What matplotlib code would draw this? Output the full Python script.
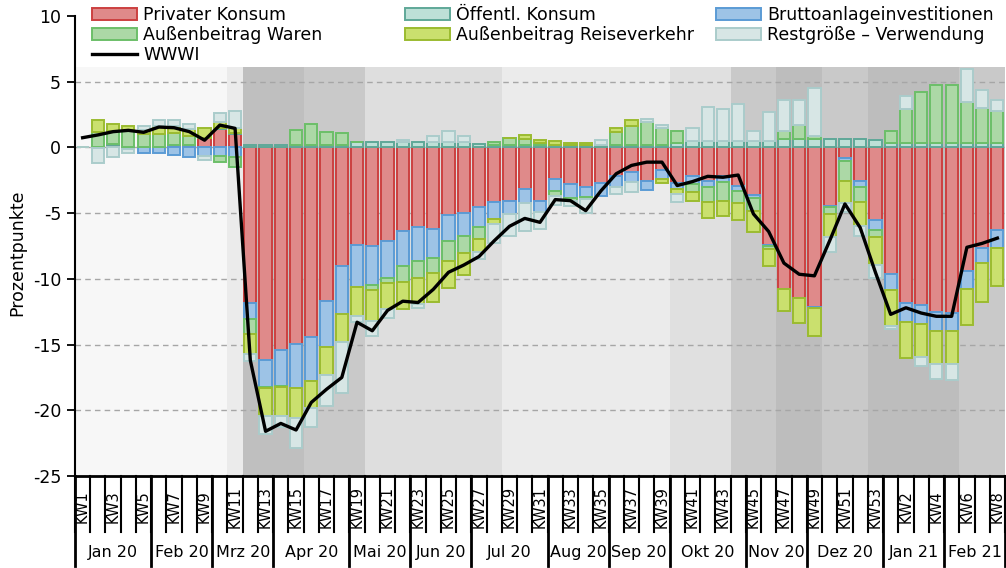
"""
Wachstumsbeiträge zum WWWI (Wochen 2020/21) - gestapelte Balken mit Hintergrundbändern
"""
import matplotlib
matplotlib.use('Agg')
import matplotlib.pyplot as plt
import matplotlib.transforms as mtransforms
import numpy as np

plt.rcParams['axes.unicode_minus'] = False

# ---------- Daten ----------
weeks = [f'KW{i}' for i in range(1, 54)] + [f'KW{i}' for i in range(1, 9)]
months = ['Jan 20', 'Feb 20', 'Mrz 20', 'Apr 20', 'Mai 20', 'Jun 20', 'Jul 20',
          'Aug 20', 'Sep 20', 'Okt 20', 'Nov 20', 'Dez 20', 'Jan 21', 'Feb 21']
month_weeks = [5, 4, 4, 5, 4, 4, 5, 4, 4, 5, 4, 5, 4, 4]

privat = [0, 0, 0.2, 0, 0, 0, 0.15, 0.15, 0.7, 1.4, 1.0,
          -11.83, -16.16, -15.45, -14.95, -14.45, -11.68, -9.0, -7.4, -7.53, -7.15,
          -6.34, -6.03, -6.2, -5.11, -4.99, -4.55, -4.12, -4.05, -3.2, -4.05,
          -2.4, -2.82, -2.98, -2.7, -2.19, -1.88, -2.52, -1.7, -2.7, -2.19,
          -2.52, -2.14, -2.95, -3.61, -7.45, -10.74, -11.43, -12.11, -4.43, -0.79,
          -2.52, -5.5, -9.64, -11.81, -11.98, -12.49, -12.62, -9.39, -7.66, -6.28]
oeffentl = [0, 0.05, 0.05, 0.05, 0.05, 0.05, 0.05, 0.05, 0.05, 0.1, 0.1,
            0.15, 0.2, 0.15, 0.15, 0.2, 0.2, 0.2, 0.4, 0.4, 0.4,
            0.4, 0.4, 0.4, 0.4, 0.4, 0.28, 0.2, 0.2, 0.2, 0.2,
            0.15, 0.15, 0.15, 0.2, 0.2, 0.2, 0.2, 0.2, 0.35, 0.5,
            0.5, 0.5, 0.5, 0.5, 0.5, 0.65, 0.65, 0.65, 0.65, 0.65,
            0.65, 0.53, 0.35, 0.35, 0.35, 0.35, 0.35, 0.35, 0.35, 0.35]
brutto = [0, -0.05, 0, -0.15, -0.4, -0.4, -0.6, -0.75, -0.65, -0.65, -0.75,
          -1.22, -2.08, -2.7, -3.35, -3.35, -3.49, -3.65, -3.2, -2.93, -2.8,
          -2.66, -2.6, -2.25, -2.04, -1.73, -1.53, -1.33, -1.01, -1.02, -0.89,
          -0.93, -1.05, -0.76, -0.96, -0.84, -0.77, -0.71, -0.74, -0.46, -0.58,
          -0.51, -0.51, -0.33, -0.26, -0.05, -0.05, -0.05, -0.13, -0.13, -0.28,
          -0.51, -0.76, -1.22, -1.45, -1.42, -1.48, -1.35, -1.35, -1.15, -1.38]
waren = [0, 1.15, 1.0, 1.3, 1.0, 1.0, 0.9, 0.7, 0, -0.45, -0.75,
         -1.12, -0.1, -0.1, 1.2, 1.55, 1.0, 0.92, 0, -0.38, -0.38,
         -1.23, -1.32, -1.12, -1.48, -1.35, -0.89, 0.2, 0.5, 0.46, 0.15,
         -0.39, -0.23, -0.18, 0, 0.97, 1.43, 1.73, 1.3, 0.87, -0.59,
         -1.14, -1.4, -0.94, -0.94, -0.2, 0.57, 1.08, 0.22, -0.5, -1.45,
         -1.09, -0.59, 0.87, 2.55, 3.87, 4.38, 4.38, 3.11, 2.65, 2.4]
reise = [0, 0.85, 0.5, 0.3, 0.25, 0.6, 0.5, 0.5, 0.75, 0.4, 0.35,
         -1.56, -2.1, -2.15, -2.3, -2.0, -2.11, -2.15, -2.22, -2.37, -1.97,
         -2.03, -1.98, -2.16, -2.03, -1.62, -0.97, -0.38, 0, 0.31, 0.23,
         0.31, 0.18, 0.18, 0, 0.33, 0.43, 0, -0.26, -0.38, -0.69,
         -1.2, -1.19, -1.28, -1.65, -1.34, -1.63, -1.9, -2.11, -1.78, -1.7,
         -1.83, -2.11, -2.72, -2.75, -2.55, -2.54, -2.54, -2.77, -2.92, -2.87]
rest = [0, -1.15, -0.75, -0.25, 0.35, 0.4, 0.45, 0.4, -0.3, 0.75, 1.3,
        -0.55, -1.35, -0.9, -2.3, -1.45, -2.36, -3.88, -0.5, -1.1, -0.65,
        0.18, -0.26, 0.44, 0.85, 0.44, -0.56, -1.45, -1.66, -2.11, -1.26,
        -0.63, -0.33, -1.07, 0.38, -0.51, -0.71, 0.26, 0.18, -0.63, 0.98,
        2.6, 2.45, 2.83, 0.72, 2.2, 2.37, 1.86, 3.66, -1.09, -0.71,
        -0.76, -0.94, -0.25, 0.99, -0.69, -1.09, -1.15, 2.47, 1.4, 0.89]
wwwi = [0.74, 0.95, 1.2, 1.3, 1.15, 1.55, 1.5, 1.2, 0.55, 1.7, 1.45,
        -16.2, -21.6, -21.0, -21.5, -19.4, -18.4, -17.5, -13.3, -13.95, -12.4,
        -11.7, -11.8, -10.8, -9.5, -8.95, -8.3, -7.1, -6.0, -5.4, -5.7,
        -3.97, -4.05, -4.81, -3.3, -2.0, -1.37, -1.12, -1.12, -2.9, -2.6,
        -2.2, -2.27, -2.1, -5.06, -6.4, -8.8, -9.65, -9.77, -7.1, -4.3,
        -6.1, -9.5, -12.7, -12.2, -12.6, -12.85, -12.85, -7.6, -7.3, -6.9]

# Hintergrundbänder (Start-Woche-Index, Graustufe)
band_start = [0, 10, 11, 15, 19, 28, 39, 43, 46, 49, 52, 58]
band_gray = ['#f7f7f7', '#ebebeb', '#bfbfbf', '#c9c9c9', '#dedede', '#ebebeb',
             '#e0e0e0', '#c9c9c9', '#bdbdbd', '#c9c9c9', '#bdbdbd', '#c9c9c9']

series = [
    ('Privater Konsum', privat, '#df8a8a', '#cc4040'),
    ('Öffentl. Konsum', oeffentl, '#bde0d7', '#5fa898'),
    ('Bruttoanlageinvestitionen', brutto, '#9dc3e6', '#5b9bd5'),
    ('Außenbeitrag Waren', waren, '#acd8a6', '#6cbf69'),
    ('Außenbeitrag Reiseverkehr', reise, '#cae06e', '#9bbb30'),
    ('Restgröße – Verwendung', rest, '#d7e6e5', '#aacccb'),
]

fig = plt.figure(figsize=(10.06, 5.68), dpi=100)
ax = fig.add_axes([75 / 1006, 1 - 476 / 568, 930 / 1006, 460 / 568])

n = len(weeks)
x = np.arange(n)
ax.set_xlim(-0.5, n - 0.5)
ax.set_ylim(-25, 10)

# Bänder
band_top = (6.1 + 25) / 35
band_end = band_start[1:] + [n]
for s, e, g in zip(band_start, band_end, band_gray):
    ax.axvspan(s - 0.5, e - 0.5, ymin=0, ymax=band_top, color=g, lw=0, zorder=0)

# Gitternetz
for yv in [5, 0, -5, -10, -15, -20]:
    ax.axhline(yv, color='#a6a6a6', lw=1, ls=(0, (4, 3)), zorder=0.5)

# gestapelte Balken (positiv / negativ getrennt)
pos_bottom = np.zeros(n)
neg_bottom = np.zeros(n)
handles = {}
for name, vals, fc, ec in series:
    v = np.array(vals, dtype=float)
    bottom = np.where(v >= 0, pos_bottom, neg_bottom)
    bars = ax.bar(x, v, 0.8, bottom=bottom, color=fc, edgecolor=ec, linewidth=1.4,
                  label=name, zorder=2)
    handles[name] = bars
    pos_bottom = pos_bottom + np.where(v >= 0, v, 0)
    neg_bottom = neg_bottom + np.where(v < 0, v, 0)

line, = ax.plot(x, wwwi, color='black', lw=2.4, label='WWWI', zorder=3)

# Achsen
for sp in ['top', 'right']:
    ax.spines[sp].set_visible(False)
ax.spines['left'].set_linewidth(1.5)
ax.spines['bottom'].set_linewidth(2)
ax.set_yticks(range(-25, 11, 5))
ax.tick_params(axis='y', direction='out', length=6, width=1.3, labelsize=12.5, pad=4)
ax.set_xticks([])
ax.set_ylabel('Prozentpunkte', fontsize=12.5)
ax.yaxis.set_label_coords(-0.052, 0.485)

# Kategorienachse (Wochen + Monate)
trans = mtransforms.blended_transform_factory(ax.transData, ax.transAxes)
for k in range(n + 1):
    ax.plot([k - 0.5, k - 0.5], [0, -0.122], transform=trans, color='black',
            lw=1.5, clip_on=False)
for c in range(0, n, 2):
    ax.text(c, -0.0674, weeks[c], rotation=90, ha='center', va='center',
            transform=trans, fontsize=10.5)
bounds = np.concatenate([[0], np.cumsum(month_weeks)])
for b in bounds:
    ax.plot([b - 0.5, b - 0.5], [0, -0.196], transform=trans, color='black',
            lw=2, clip_on=False)
for i, m in enumerate(months):
    ax.text((bounds[i] + bounds[i + 1] - 1) / 2, -0.167, m, ha='center',
            va='center', transform=trans, fontsize=11.5)

# Legende in drei Spalten
leg_kw = dict(loc='upper left', frameon=False, fontsize=12.5, borderpad=0,
              borderaxespad=0, labelspacing=0.12, handlelength=2.6,
              handleheight=0.7, handletextpad=0.35)
cols = [
    (92, [handles['Privater Konsum'], handles['Außenbeitrag Waren'], line],
     ['Privater Konsum', 'Außenbeitrag Waren', 'WWWI']),
    (405, [handles['Öffentl. Konsum'], handles['Außenbeitrag Reiseverkehr']],
     ['Öffentl. Konsum', 'Außenbeitrag Reiseverkehr']),
    (716, [handles['Bruttoanlageinvestitionen'], handles['Restgröße – Verwendung']],
     ['Bruttoanlageinvestitionen', 'Restgröße – Verwendung']),
]
for px, hs, ls in cols:
    fig.legend(hs, ls, bbox_to_anchor=(px / 1006, 1 - 6 / 568), **leg_kw)

fig.savefig('out.png', dpi=100, facecolor='white')
